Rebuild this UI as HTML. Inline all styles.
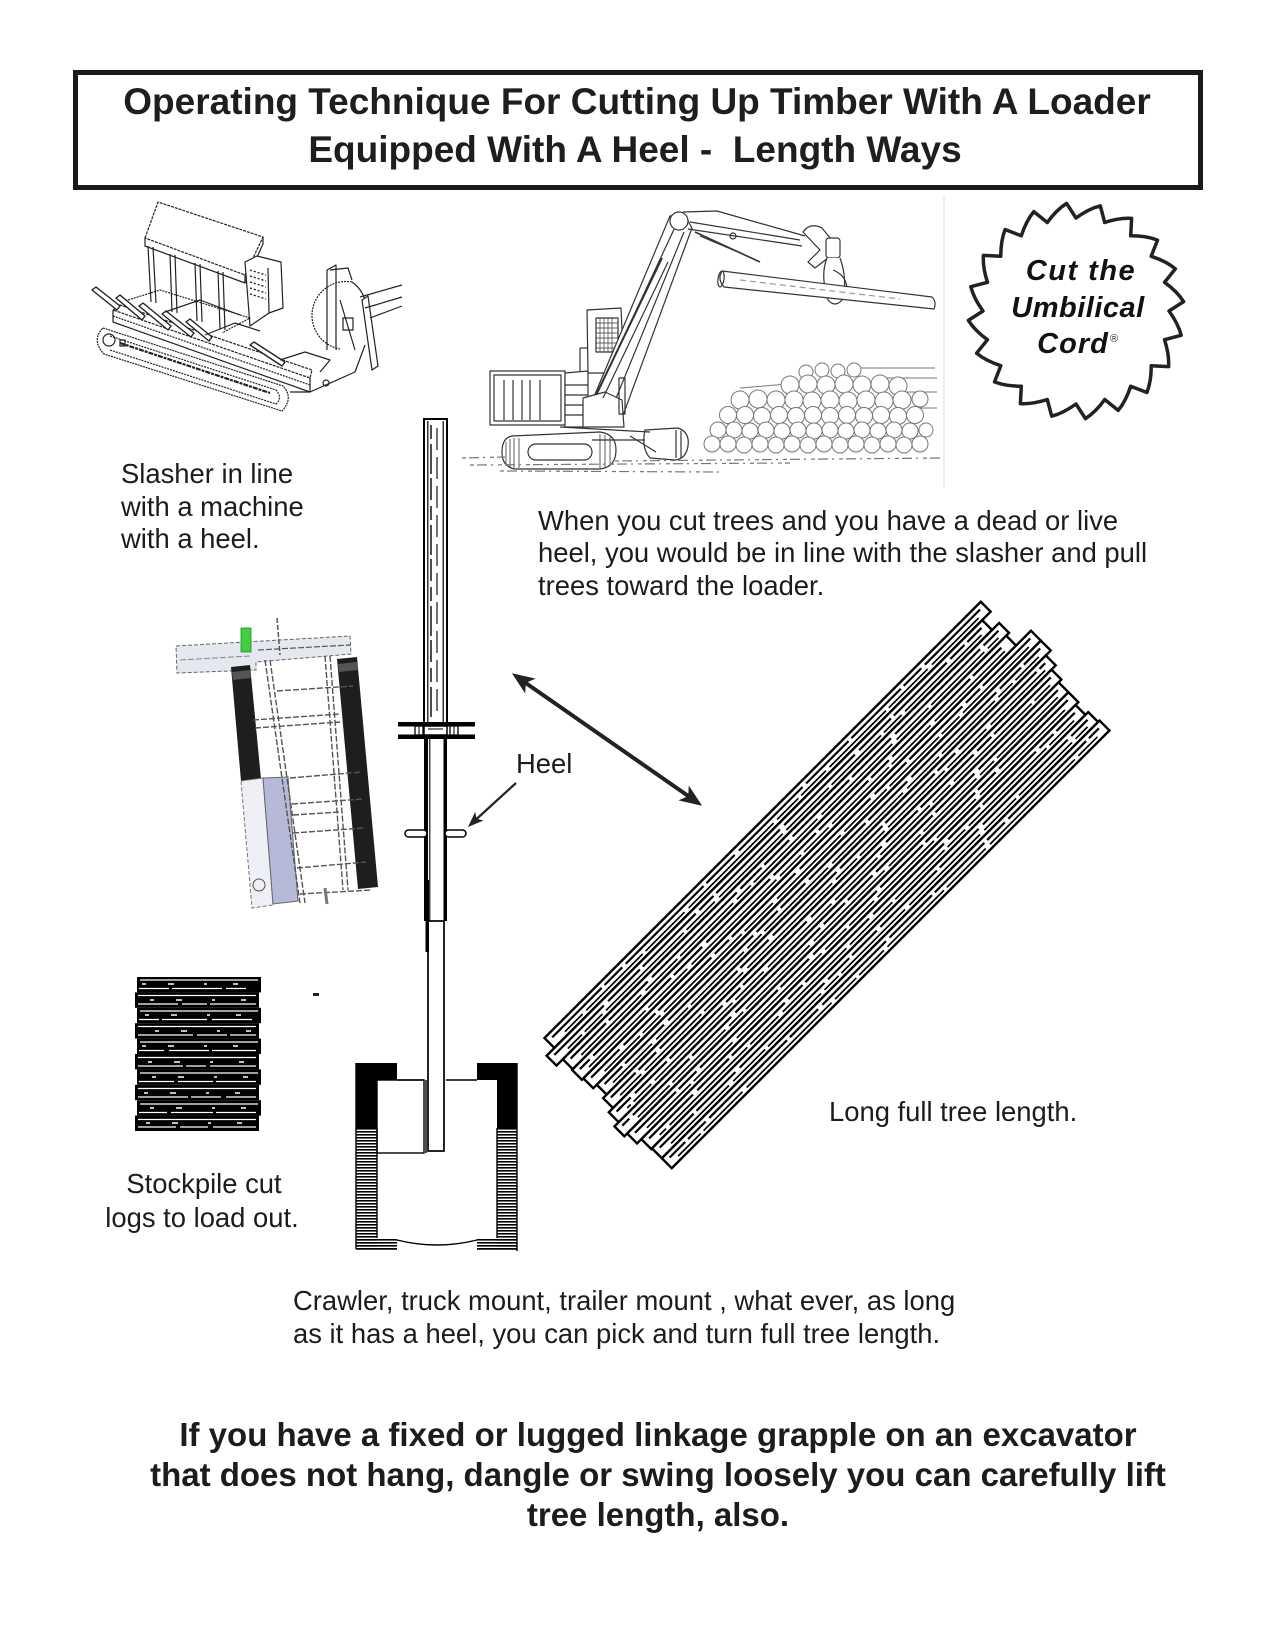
<!DOCTYPE html>
<html>
<head>
<meta charset="utf-8">
<style>
html,body{margin:0;padding:0;background:#fff;}
body{width:1275px;height:1650px;overflow:hidden;position:relative;}
svg{position:absolute;left:0;top:0;}
text{font-family:"Liberation Sans",Arial,sans-serif;}
</style>
</head>
<body>
<svg width="1275" height="1650" viewBox="0 0 1275 1650" xmlns="http://www.w3.org/2000/svg">
<defs>
  <pattern id="hatch" width="6" height="3" patternUnits="userSpaceOnUse">
    <rect width="6" height="1.6" fill="#000"/>
  </pattern>
</defs>

<!-- Title box -->
<rect x="75.5" y="72.5" width="1125" height="115" fill="#fff" stroke="#1a1a1a" stroke-width="5"/>
<text x="637" y="114" text-anchor="middle" font-size="37" font-weight="bold" fill="#1e1e1e">Operating Technique For Cutting Up Timber With A Loader</text>
<text x="635" y="162" text-anchor="middle" font-size="37" font-weight="bold" fill="#1e1e1e" style="white-space:pre">Equipped With A Heel -  Length Ways</text>

<!-- faint separator -->
<line x1="944" y1="195" x2="944" y2="488" stroke="#e6e6e6" stroke-width="1.5"/>

<!-- ISO SLASHER (top-left) -->
<g stroke="#222" stroke-width="1.2" fill="none" stroke-linejoin="round">
  <polygon points="145,238 158,202 263,237 245,275" fill="#fff" stroke-dasharray="3 1"/>
  <polyline points="145,238 145,246 245,283 245,275"/>
  <polyline points="245,283 263,244 263,237"/>
  <line x1="148" y1="246" x2="151" y2="302"/><line x1="153" y1="247" x2="156" y2="303"/>
  <line x1="170" y1="254" x2="172" y2="312"/><line x1="175" y1="255" x2="177" y2="313"/>
  <line x1="195" y1="263" x2="197" y2="321"/><line x1="200" y1="264" x2="202" y2="322"/>
  <line x1="218" y1="271" x2="220" y2="329"/><line x1="223" y1="272" x2="225" y2="330"/>
  <polygon points="245,262 257,256 281,262 283,308 269,313 250,326" fill="#fff"/>
  <line x1="269" y1="313" x2="268" y2="268"/>
  <g stroke-dasharray="2 2" stroke-width="1.4">
    <line x1="250" y1="270" x2="266" y2="275"/><line x1="250" y1="276" x2="266" y2="281"/>
    <line x1="250" y1="282" x2="266" y2="287"/><line x1="250" y1="288" x2="266" y2="293"/>
    <line x1="250" y1="294" x2="266" y2="299"/>
  </g>
  <!-- deck -->
  <polygon points="113,310 120,305 312,370 310,378" fill="#fff" stroke-dasharray="3 1"/>
  <polyline points="113,310 113,322 310,392 310,378"/>
  <line x1="113" y1="316" x2="310" y2="385" stroke-dasharray="2 1"/>
  <!-- bars -->
  <g stroke-width="1.4">
    <polygon points="92,290 96,287 120,306 117,310" fill="#fff"/>
    <polygon points="116,298 120,295 145,316 142,320" fill="#fff"/>
    <polygon points="139,306 143,303 171,326 168,330" fill="#fff"/>
    <polygon points="162,314 166,311 194,333 191,337" fill="#fff"/>
    <polygon points="186,322 190,319 212,337 209,341" fill="#fff"/>
    <polygon points="250,345 254,342 285,362 282,366" fill="#fff"/>
  </g>
  <polyline points="128,300 160,290 250,318 222,333" stroke-dasharray="2 1"/>
  <polyline points="165,312 200,300 240,315"/>
  <polyline points="205,335 235,323 260,331"/>
  <polyline points="280,360 305,352 330,360 320,372"/>
  <!-- track -->
  <path d="M103,328 L283,386 Q294,398 282,411 L104,354 Q91,340 103,328 Z" fill="#fff" stroke-dasharray="2 0.8"/>
  <path d="M110,336 L276,390 Q283,398 276,404 L110,350" stroke-dasharray="2 1"/>
  <line x1="120" y1="343" x2="270" y2="393" stroke-width="2.2" stroke-dasharray="5 1 3 1"/>
  <circle cx="109" cy="340" r="6"/>
  <rect x="120" y="340" width="5" height="6"/>
  <!-- saw & frame -->
  <path d="M352,282 A34,34 0 0 0 340,349" fill="#fff" stroke-dasharray="2 1"/>
  <path d="M352,282 A34,34 0 0 1 365,300"/>
  <polyline points="327,270 336,265 336,350"/>
  <line x1="327" y1="270" x2="327" y2="350"/>
  <polyline points="330,270 348,268 352,280"/>
  <line x1="340" y1="300" x2="355" y2="350"/>
  <polygon points="362,300 368,296 378,366 372,370" fill="#fff"/>
  <line x1="360" y1="297" x2="402" y2="285"/><line x1="365" y1="308" x2="402" y2="297"/>
  <line x1="370" y1="318" x2="402" y2="306"/>
  <rect x="343" y="318" width="10" height="12"/>
  <polyline points="290,392 310,392 355,372 365,345"/>
  <circle cx="326" cy="383" r="3"/>
</g>

<!-- LOADER DRAWING -->
<g stroke="#333" stroke-width="1.2" fill="none" stroke-linejoin="round">
  <rect x="490" y="371" width="75" height="54" fill="#fff"/>
  <rect x="494" y="375" width="67" height="46"/>
  <line x1="504" y1="380" x2="504" y2="420"/><line x1="513" y1="380" x2="513" y2="420"/>
  <line x1="522" y1="380" x2="522" y2="420"/><line x1="530" y1="380" x2="530" y2="420"/>
  <line x1="540" y1="380" x2="540" y2="420"/>
  <polygon points="565,373 588,371 588,427 565,427" fill="#fff"/>
  <line x1="565" y1="385" x2="588" y2="385"/><line x1="565" y1="395" x2="588" y2="395"/>
  <line x1="565" y1="405" x2="588" y2="405"/><line x1="565" y1="415" x2="588" y2="415"/>
  <polygon points="587,310 621,308 624,373 588,373" fill="#fff"/>
  <rect x="596" y="318" width="22" height="34"/>
  <g stroke-width="0.7">
    <line x1="600" y1="318" x2="600" y2="352"/><line x1="604" y1="318" x2="604" y2="352"/>
    <line x1="608" y1="318" x2="608" y2="352"/><line x1="612" y1="318" x2="612" y2="352"/>
    <line x1="596" y1="323" x2="618" y2="323"/><line x1="596" y1="328" x2="618" y2="328"/>
    <line x1="596" y1="333" x2="618" y2="333"/><line x1="596" y1="338" x2="618" y2="338"/>
    <line x1="596" y1="343" x2="618" y2="343"/><line x1="596" y1="348" x2="618" y2="348"/>
  </g>
  <line x1="580" y1="348" x2="588" y2="348"/><line x1="580" y1="348" x2="580" y2="372"/>
  <!-- boom -->
  <polygon points="585,418 622,418 692,228 684,214 670,216" fill="#fff"/>
  <line x1="592" y1="405" x2="676" y2="225"/>
  <line x1="612" y1="408" x2="684" y2="232"/>
  <circle cx="679" cy="221" r="9" fill="#fff"/>
  <polygon points="583,398 605,392 622,400 624,427 583,427" fill="#fff"/>
  <line x1="596" y1="395" x2="662" y2="258" stroke-width="2"/>
  <line x1="603" y1="398" x2="668" y2="262"/>
  <rect x="619" y="378" width="6" height="36"/>
  <!-- stick -->
  <polyline points="683,212 717,211 805,236"/>
  <line x1="688" y1="229" x2="802" y2="246"/>
  <line x1="690" y1="222" x2="800" y2="240"/>
  <line x1="695" y1="232" x2="760" y2="262" stroke-width="1.6"/>
  <line x1="700" y1="236" x2="745" y2="255"/>
  <circle cx="733" cy="236" r="3"/>
  <!-- grapple -->
  <path d="M803,232 Q810,222 822,228 L830,238 L828,258 L815,268 L808,262 L820,250 Z" fill="#fff"/>
  <rect x="826" y="238" width="14" height="20" rx="3" fill="#fff"/>
  <path d="M827,258 Q820,275 828,300 Q835,308 842,300 Q848,280 840,258" fill="#fff"/>
  <path d="M833,270 Q852,278 845,300"/>
  <!-- held log -->
  <path d="M722,271 L932,297 Q937,302 934,309 L724,287 Q717,279 722,271 Z" fill="#fff"/>
  <ellipse cx="721" cy="279" rx="3" ry="8" transform="rotate(8 721 279)"/>
  <line x1="740" y1="280" x2="900" y2="299" stroke="#999" stroke-dasharray="6 4"/>
  <!-- tracks -->
  <path d="M512,436 L600,432 Q616,434 616,450 Q616,467 600,469 L514,469 Q502,466 502,452 Q502,438 512,436 Z" fill="#fff"/>
  <rect x="528" y="444" width="64" height="16" rx="8"/>
  <g stroke-width="0.8">
    <line x1="506" y1="442" x2="506" y2="464"/><line x1="510" y1="439" x2="510" y2="467"/>
    <line x1="514" y1="438" x2="514" y2="468"/><line x1="519" y1="438" x2="519" y2="468"/>
    <line x1="600" y1="434" x2="600" y2="468"/><line x1="605" y1="435" x2="605" y2="467"/>
    <line x1="610" y1="437" x2="610" y2="465"/>
  </g>
  <path d="M645,430 L678,428 Q690,432 688,446 Q686,459 675,460 L650,458 Q641,448 645,430 Z" fill="#fff"/>
  <line x1="676" y1="430" x2="676" y2="458"/><line x1="681" y1="431" x2="681" y2="458"/>
  <polyline points="560,427 650,432"/><polyline points="592,440 645,440"/>
  <line x1="630" y1="436" x2="656" y2="452"/>
  <g stroke="#777" stroke-dasharray="4 3 10 4 2 5">
    <line x1="462" y1="458" x2="505" y2="457"/>
    <line x1="470" y1="465" x2="790" y2="463"/>
    <line x1="500" y1="471" x2="720" y2="472"/>
    <line x1="615" y1="461" x2="940" y2="458"/>
  </g>
</g>
<!-- log pile -->
<g stroke="#777" stroke-width="1" fill="#fff">
  <line x1="860" y1="368" x2="935" y2="368"/>
  <line x1="880" y1="378" x2="937" y2="378"/>
  <line x1="905" y1="392" x2="937" y2="392"/>
  <line x1="915" y1="408" x2="937" y2="408"/>
  <line x1="740" y1="388" x2="800" y2="383"/>
  <circle cx="806" cy="372" r="7"/><circle cx="822" cy="370" r="7"/><circle cx="838" cy="371" r="7"/><circle cx="854" cy="370" r="7"/>
  <circle cx="790" cy="385" r="9"/><circle cx="808" cy="384" r="9"/><circle cx="826" cy="385" r="9"/><circle cx="844" cy="384" r="9"/><circle cx="862" cy="385" r="9"/><circle cx="880" cy="384" r="9"/><circle cx="898" cy="386" r="9"/>
  <circle cx="740" cy="400" r="9"/><circle cx="758" cy="399" r="9"/><circle cx="776" cy="400" r="9"/><circle cx="794" cy="400" r="9"/><circle cx="812" cy="401" r="9"/><circle cx="830" cy="400" r="9"/><circle cx="848" cy="401" r="9"/><circle cx="866" cy="400" r="9"/><circle cx="884" cy="401" r="9"/><circle cx="902" cy="400" r="9"/><circle cx="920" cy="399" r="8"/>
  <circle cx="728" cy="415" r="8.5"/><circle cx="745" cy="415" r="8.5"/><circle cx="762" cy="416" r="8.5"/><circle cx="779" cy="415" r="8.5"/><circle cx="796" cy="416" r="8.5"/><circle cx="813" cy="415" r="8.5"/><circle cx="830" cy="416" r="8.5"/><circle cx="847" cy="415" r="8.5"/><circle cx="864" cy="416" r="8.5"/><circle cx="881" cy="415" r="8.5"/><circle cx="898" cy="416" r="8.5"/><circle cx="915" cy="415" r="8.5"/>
  <circle cx="718" cy="430" r="8"/><circle cx="734" cy="430" r="8"/><circle cx="750" cy="431" r="8"/><circle cx="766" cy="430" r="8"/><circle cx="782" cy="431" r="8"/><circle cx="798" cy="430" r="8"/><circle cx="814" cy="431" r="8"/><circle cx="830" cy="430" r="8"/><circle cx="846" cy="431" r="8"/><circle cx="862" cy="430" r="8"/><circle cx="878" cy="431" r="8"/><circle cx="894" cy="430" r="8"/><circle cx="910" cy="431" r="8"/><circle cx="926" cy="430" r="7"/>
  <circle cx="712" cy="444" r="8"/><circle cx="728" cy="444" r="8"/><circle cx="744" cy="445" r="8"/><circle cx="760" cy="444" r="8"/><circle cx="776" cy="445" r="8"/><circle cx="792" cy="444" r="8"/><circle cx="808" cy="445" r="8"/><circle cx="824" cy="444" r="8"/><circle cx="840" cy="445" r="8"/><circle cx="856" cy="444" r="8"/><circle cx="872" cy="445" r="8"/><circle cx="888" cy="444" r="8"/><circle cx="904" cy="445" r="8"/><circle cx="920" cy="444" r="8"/>
</g>

<!-- SAW BLADE LOGO -->
<path d="M1169,311 Q1178.2,323.6 1181.2,335.3 L1164.5,339.7 Q1169.3,354.5 1168.6,366.6 L1151.2,365.7 Q1151.3,381.2 1146.9,392.5 L1130.7,386.2 Q1125.9,401.1 1118.2,410.4 L1104.7,399.5 Q1095.7,412.1 1085.4,418.6 L1076,404 Q1063.4,413.2 1051.7,416.2 L1047.3,399.5 Q1032.5,404.3 1020.4,403.6 L1021.3,386.2 Q1005.8,386.3 994.5,381.9 L1000.8,365.7 Q985.9,360.9 976.6,353.2 L987.5,339.7 Q974.9,330.7 968.4,320.4 L983,311 Q973.8,298.4 970.8,286.7 L987.5,282.3 Q982.6,267.5 983.4,255.4 L1000.8,256.3 Q1000.7,240.8 1005.1,229.5 L1021.3,235.8 Q1026.1,220.9 1033.8,211.6 L1047.3,222.5 Q1056.3,209.9 1066.6,203.4 L1076,218 Q1088.6,208.8 1100.3,205.8 L1104.7,222.5 Q1119.5,217.6 1131.6,218.4 L1130.7,235.8 Q1146.2,235.7 1157.5,240.1 L1151.2,256.3 Q1166.1,261.1 1175.4,268.8 L1164.5,282.3 Q1177.1,291.3 1183.6,301.6 Z" fill="#fff" stroke="#222" stroke-width="3.5" stroke-linejoin="round"/>
<text x="1081" y="280" text-anchor="middle" font-size="29" font-weight="bold" font-style="italic" fill="#111" letter-spacing="1.5">Cut the</text>
<text x="1078" y="317" text-anchor="middle" font-size="29" font-weight="bold" font-style="italic" fill="#111" letter-spacing="0.5">Umbilical</text>
<text x="1073" y="353" text-anchor="middle" font-size="29" font-weight="bold" font-style="italic" fill="#111" letter-spacing="1">Cord</text>
<text x="1110" y="342" font-size="11" fill="#222">®</text>

<!-- SLASHER TOP VIEW -->
<g>
  <polygon points="176,646 350,636 351,654 256,662 256,670 177,673" fill="#e6e8ef" stroke="#666" stroke-width="1" stroke-dasharray="4 2"/>
  <line x1="180" y1="660" x2="250" y2="656" stroke="#888" stroke-width="1" stroke-dasharray="6 2"/>
  <line x1="258" y1="650" x2="350" y2="645" stroke="#555" stroke-width="1.2" stroke-dasharray="6 2"/>
  <rect x="241" y="628" width="10" height="24" fill="#3fcf3f" stroke="#2a8a2a" stroke-width="0.8"/>
  <line x1="277" y1="618" x2="280" y2="655" stroke="#555" stroke-width="1.5" stroke-dasharray="5 2"/>
  <polygon points="231,667 250,665 261,779 241,781" fill="#1e1e1e"/>
  <polygon points="232,672 250,670 251,678 233,680" fill="#555"/>
  <polygon points="337,659 357,657 378,887 358,889" fill="#1e1e1e"/>
  <polygon points="338,664 357,662 358,670 339,672" fill="#555"/>
  <polygon points="241,781 263,778 273,905 252,908" fill="#eef0f6" stroke="#777" stroke-width="1" stroke-dasharray="4 2"/>
  <polygon points="263,778 288,777 298,901 273,904" fill="#b6bad8" stroke="#666" stroke-width="1"/>
  <circle cx="259" cy="885" r="6" fill="#eef0f6" stroke="#555" stroke-width="1"/>
  <g stroke="#555" stroke-width="1.4" stroke-dasharray="6 2" fill="none">
    <line x1="265" y1="660" x2="300" y2="903"/>
    <line x1="270" y1="660" x2="305" y2="903"/>
    <line x1="325" y1="656" x2="343" y2="890"/>
    <line x1="330" y1="656" x2="348" y2="890"/>
    <line x1="277" y1="691" x2="353" y2="686"/>
    <line x1="253" y1="720" x2="340" y2="714"/>
    <line x1="255" y1="728" x2="340" y2="722"/>
    <line x1="290" y1="778" x2="362" y2="772"/>
    <line x1="292" y1="804" x2="363" y2="799"/>
    <line x1="293" y1="815" x2="340" y2="812"/>
    <line x1="293" y1="833" x2="364" y2="828"/>
    <line x1="297" y1="868" x2="366" y2="862"/>
    <line x1="300" y1="894" x2="372" y2="890"/>
  </g>
  <line x1="325" y1="888" x2="327" y2="904" stroke="#777" stroke-width="3"/>
</g>

<!-- Stockpile -->
<g>
  <rect x="137" y="977" width="124" height="15.4" fill="#000"/>
  <rect x="135" y="992.4" width="124" height="15.4" fill="#000"/>
  <rect x="137" y="1007.8" width="124" height="15.4" fill="#000"/>
  <rect x="135" y="1023.2" width="124" height="15.4" fill="#000"/>
  <rect x="137" y="1038.6" width="124" height="15.4" fill="#000"/>
  <rect x="135" y="1054" width="124" height="15.4" fill="#000"/>
  <rect x="137" y="1069.4" width="124" height="15.4" fill="#000"/>
  <rect x="135" y="1084.8" width="124" height="15.4" fill="#000"/>
  <rect x="137" y="1100.2" width="124" height="15.4" fill="#000"/>
  <rect x="135" y="1115.6" width="124" height="15.4" fill="#000"/>
  <g stroke="#fff" stroke-width="1.3">
    <line x1="140" y1="980" x2="258" y2="980"/><line x1="139" y1="988.5" x2="256" y2="988.5" stroke-dasharray="30 3 50 4 20"/>
    <line x1="138" y1="995.5" x2="256" y2="995.5"/><line x1="138" y1="1004" x2="256" y2="1004" stroke-dasharray="40 4 25 3 60"/>
    <line x1="140" y1="1011" x2="258" y2="1011"/><line x1="139" y1="1019.5" x2="256" y2="1019.5" stroke-dasharray="20 3 45 5 40"/>
    <line x1="138" y1="1026.5" x2="256" y2="1026.5"/><line x1="138" y1="1035" x2="256" y2="1035" stroke-dasharray="55 4 30 3 30"/>
    <line x1="140" y1="1042" x2="258" y2="1042"/><line x1="139" y1="1050.5" x2="256" y2="1050.5" stroke-dasharray="25 5 40 3 50"/>
    <line x1="138" y1="1057.5" x2="256" y2="1057.5"/><line x1="138" y1="1066" x2="256" y2="1066" stroke-dasharray="45 3 20 4 50"/>
    <line x1="140" y1="1073" x2="258" y2="1073"/><line x1="139" y1="1081.5" x2="256" y2="1081.5" stroke-dasharray="35 4 35 3 45"/>
    <line x1="138" y1="1088.5" x2="256" y2="1088.5"/><line x1="138" y1="1097" x2="256" y2="1097" stroke-dasharray="50 3 30 5 35"/>
    <line x1="140" y1="1104" x2="258" y2="1104"/><line x1="139" y1="1112.5" x2="256" y2="1112.5" stroke-dasharray="28 4 42 3 45"/>
    <line x1="138" y1="1119.5" x2="256" y2="1119.5"/><line x1="138" y1="1127" x2="256" y2="1127" stroke-dasharray="38 4 28 5 45"/>
  </g>
  <g stroke="#fff" stroke-width="1.6" stroke-dasharray="4 22 6 30 3 26 5 40">
    <line x1="142" y1="984" x2="256" y2="984"/>
    <line x1="150" y1="1000" x2="254" y2="1000"/>
    <line x1="145" y1="1015" x2="256" y2="1015"/>
    <line x1="155" y1="1031" x2="254" y2="1031"/>
    <line x1="142" y1="1046" x2="256" y2="1046"/>
    <line x1="148" y1="1062" x2="254" y2="1062"/>
    <line x1="152" y1="1077" x2="256" y2="1077"/>
    <line x1="144" y1="1093" x2="254" y2="1093"/>
    <line x1="150" y1="1108" x2="256" y2="1108"/>
    <line x1="146" y1="1123" x2="254" y2="1123"/>
  </g>
</g>
<rect x="313" y="993" width="6" height="3" fill="#222"/>

<!-- BOOM / HEEL -->
<g>
  <rect x="424" y="419" width="23" height="304" fill="#fff" stroke="#000" stroke-width="2"/>
  <line x1="427.8" y1="421" x2="427.8" y2="722" stroke="#000" stroke-width="1.2"/>
  <line x1="443.2" y1="421" x2="443.2" y2="722" stroke="#000" stroke-width="1.2"/>
  <line x1="431" y1="425" x2="431" y2="720" stroke="#000" stroke-width="1.4" stroke-dasharray="14 5 30 4 22 6"/>
  <line x1="437" y1="428" x2="437" y2="718" stroke="#000" stroke-width="1.1" stroke-dasharray="22 7"/>
  <!-- flange -->
  <rect x="398" y="722" width="77" height="4.5" fill="#000"/>
  <rect x="398" y="734.5" width="77" height="4.5" fill="#000"/>
  <rect x="415" y="726" width="8" height="9" fill="#fff" stroke="#000" stroke-width="1.3"/>
  <line x1="419" y1="726" x2="419" y2="735" stroke="#000" stroke-width="1"/>
  <rect x="450" y="726" width="8" height="9" fill="#fff" stroke="#000" stroke-width="1.3"/>
  <line x1="454" y1="726" x2="454" y2="735" stroke="#000" stroke-width="1"/>
  <rect x="424" y="726" width="23" height="9" fill="#fff" stroke="#000" stroke-width="1.5"/>
  <line x1="428" y1="729" x2="443" y2="729" stroke="#000" stroke-width="1"/>
  <!-- lower boom -->
  <rect x="424" y="739" width="23" height="182" fill="#fff"/>
  <rect x="424" y="739" width="4" height="182" fill="#000"/>
  <line x1="429.8" y1="739" x2="429.8" y2="921" stroke="#000" stroke-width="1.1"/>
  <rect x="443.5" y="739" width="3.5" height="182" fill="#000"/>
  <rect x="428" y="921" width="16" height="230" fill="#fff" stroke="#000" stroke-width="1.7"/>
  <rect x="425.5" y="880" width="3.5" height="72" fill="#000"/>
  <!-- heel pin -->
  <rect x="405" y="830" width="22" height="7" rx="3.5" fill="#fff" stroke="#000" stroke-width="1.5"/>
  <rect x="445" y="830" width="21" height="7" rx="3.5" fill="#fff" stroke="#000" stroke-width="1.5"/>
</g>

<!-- CRAWLER BASE -->
<g>
  <rect x="356" y="1063" width="21" height="65" fill="#000"/>
  <rect x="356" y="1063" width="41" height="17" fill="#000"/>
  <rect x="356" y="1128" width="21" height="121" fill="url(#hatch)"/>
  <rect x="356" y="1238" width="41" height="11" fill="url(#hatch)"/>
  <rect x="497" y="1063" width="20" height="65" fill="#000"/>
  <rect x="477" y="1063" width="40" height="17" fill="#000"/>
  <rect x="497" y="1128" width="20" height="121" fill="url(#hatch)"/>
  <rect x="477" y="1238" width="40" height="11" fill="url(#hatch)"/>
  <g stroke="#000" fill="none" stroke-width="1.4">
    <line x1="356" y1="1063" x2="356" y2="1249"/>
    <line x1="517" y1="1063" x2="517" y2="1251"/>
    <line x1="377" y1="1128" x2="377" y2="1238"/>
    <line x1="497" y1="1128" x2="497" y2="1238"/>
    <line x1="356" y1="1249" x2="397" y2="1249"/>
    <line x1="477" y1="1249" x2="517" y2="1249"/>
    <polyline points="397,1080 424,1080"/>
    <rect x="377" y="1080" width="47" height="73"/>
    <line x1="426" y1="1080" x2="426" y2="1153"/>
    <line x1="446" y1="1080" x2="477" y2="1080"/>
    <path d="M397,1240 Q437,1250 477,1240"/>
  </g>
</g>

<!-- arrows -->
<g fill="#222" stroke="#222">
  <line x1="520" y1="679" x2="694" y2="800" stroke-width="4"/>
  <polygon points="513,674 524.8,692 525.3,682.6 534,678.8" stroke-width="1"/>
  <polygon points="701,805 680,800.2 688.7,796.4 689.2,787" stroke-width="1"/>
  <line x1="516" y1="783" x2="476" y2="819.5" stroke-width="2.2"/>
  <polygon points="469,826 481.9,820.6 476.2,819.1 475,813.4" stroke-width="1"/>
</g>

<!-- LOG BUNDLE -->
<g transform="rotate(-45)" stroke="#000" fill="#fff">
  <g stroke-width="2.4">
    <rect x="-349" y="1119" width="617" height="14"/>
    <rect x="-360" y="1133" width="616" height="14"/>
    <rect x="-351" y="1147" width="617" height="14"/>
    <rect x="-352" y="1161" width="614" height="14"/>
    <rect x="-350" y="1175" width="633" height="14"/>
    <rect x="-345" y="1189" width="628" height="14"/>
    <rect x="-350" y="1203" width="626" height="14"/>
    <rect x="-356" y="1217" width="626" height="14"/>
    <rect x="-362" y="1231" width="628" height="14"/>
    <rect x="-358" y="1245" width="624" height="14"/>
    <rect x="-352" y="1259" width="614" height="14"/>
    <rect x="-351" y="1273" width="617" height="14"/>
    <rect x="-351" y="1287" width="619" height="14"/>
  </g>
  <g stroke-width="2.2" fill="none">
    <line x1="-343" y1="1124" x2="262" y2="1124" stroke-dasharray="70 4 25 5 110 4 40 6 90 5 60 4"/>
    <line x1="-354" y1="1138" x2="250" y2="1138" stroke-dasharray="100 6 45 4 75 5 20 4 90 6" stroke-dashoffset="30"/>
    <line x1="-345" y1="1152" x2="260" y2="1152" stroke-dasharray="35 5 80 4 55 6 120 5 30 4" stroke-dashoffset="70"/>
    <line x1="-346" y1="1166" x2="256" y2="1166" stroke-dasharray="70 4 25 5 110 4 40 6 90 5 60 4" stroke-dashoffset="85"/>
    <line x1="-344" y1="1180" x2="277" y2="1180" stroke-dasharray="100 6 45 4 75 5 20 4 90 6" stroke-dashoffset="60"/>
    <line x1="-339" y1="1194" x2="277" y2="1194" stroke-dasharray="35 5 80 4 55 6 120 5 30 4" stroke-dashoffset="95"/>
    <line x1="-344" y1="1208" x2="270" y2="1208" stroke-dasharray="70 4 25 5 110 4 40 6 90 5 60 4" stroke-dashoffset="35"/>
    <line x1="-350" y1="1222" x2="264" y2="1222" stroke-dasharray="100 6 45 4 75 5 20 4 90 6" stroke-dashoffset="80"/>
    <line x1="-356" y1="1236" x2="260" y2="1236" stroke-dasharray="35 5 80 4 55 6 120 5 30 4" stroke-dashoffset="25"/>
    <line x1="-352" y1="1250" x2="260" y2="1250" stroke-dasharray="70 4 25 5 110 4 40 6 90 5 60 4" stroke-dashoffset="12"/>
    <line x1="-346" y1="1264" x2="256" y2="1264" stroke-dasharray="100 6 45 4 75 5 20 4 90 6" stroke-dashoffset="38"/>
    <line x1="-345" y1="1278" x2="260" y2="1278" stroke-dasharray="35 5 80 4 55 6 120 5 30 4" stroke-dashoffset="72"/>
    <line x1="-345" y1="1292" x2="262" y2="1292" stroke-dasharray="70 4 25 5 110 4 40 6 90 5 60 4" stroke-dashoffset="48"/>
  </g>
  <g stroke-width="1.7" fill="none">
    <line x1="-330" y1="1129" x2="255" y2="1129" stroke-dasharray="35 5 80 4 55 6 120 5 30 4" stroke-dashoffset="10"/>
    <line x1="-340" y1="1143" x2="245" y2="1143" stroke-dasharray="70 4 25 5 110 4 40 6 90 5 60 4" stroke-dashoffset="50"/>
    <line x1="-335" y1="1157" x2="255" y2="1157" stroke-dasharray="100 6 45 4 75 5 20 4 90 6" stroke-dashoffset="15"/>
    <line x1="-338" y1="1171" x2="250" y2="1171" stroke-dasharray="35 5 80 4 55 6 120 5 30 4" stroke-dashoffset="40"/>
    <line x1="-330" y1="1185" x2="270" y2="1185" stroke-dasharray="70 4 25 5 110 4 40 6 90 5 60 4" stroke-dashoffset="20"/>
    <line x1="-332" y1="1199" x2="270" y2="1199" stroke-dasharray="100 6 45 4 75 5 20 4 90 6" stroke-dashoffset="45"/>
    <line x1="-336" y1="1213" x2="265" y2="1213" stroke-dasharray="35 5 80 4 55 6 120 5 30 4" stroke-dashoffset="5"/>
    <line x1="-340" y1="1227" x2="258" y2="1227" stroke-dasharray="70 4 25 5 110 4 40 6 90 5 60 4" stroke-dashoffset="65"/>
    <line x1="-345" y1="1241" x2="255" y2="1241" stroke-dasharray="100 6 45 4 75 5 20 4 90 6" stroke-dashoffset="100"/>
    <line x1="-340" y1="1255" x2="252" y2="1255" stroke-dasharray="35 5 80 4 55 6 120 5 30 4" stroke-dashoffset="58"/>
    <line x1="-336" y1="1269" x2="250" y2="1269" stroke-dasharray="70 4 25 5 110 4 40 6 90 5 60 4" stroke-dashoffset="90"/>
    <line x1="-334" y1="1283" x2="255" y2="1283" stroke-dasharray="100 6 45 4 75 5 20 4 90 6" stroke-dashoffset="18"/>
    <line x1="-338" y1="1297" x2="255" y2="1297" stroke-dasharray="35 5 80 4 55 6 120 5 30 4" stroke-dashoffset="88"/>
  </g>
</g>

<!-- TEXT -->
<g font-size="27.4" fill="#1c1c1c">
  <text x="121" y="483">Slasher in line</text>
  <text x="121" y="516">with a machine</text>
  <text x="121" y="548">with a heel.</text>
  <text x="538" y="530">When you cut trees and you have a dead or live</text>
  <text x="538" y="562">heel, you would be in line with the slasher and pull</text>
  <text x="538" y="595">trees toward the loader.</text>
  <text x="516" y="773">Heel</text>
  <text x="829" y="1121">Long full tree length.</text>
  <text x="204" y="1193" text-anchor="middle">Stockpile cut</text>
  <text x="202" y="1227" text-anchor="middle">logs to load out.</text>
  <text x="293" y="1310">Crawler, truck mount, trailer mount , what ever, as long</text>
  <text x="293" y="1343">as it has a heel, you can pick and turn full tree length.</text>
</g>
<g font-size="33" font-weight="bold" fill="#1c1c1c" text-anchor="middle">
  <text x="658" y="1446">If you have a fixed or lugged linkage grapple on an excavator</text>
  <text x="658" y="1486">that does not hang, dangle or swing loosely you can carefully lift</text>
  <text x="658" y="1526">tree length, also.</text>
</g>
</svg>
</body>
</html>
